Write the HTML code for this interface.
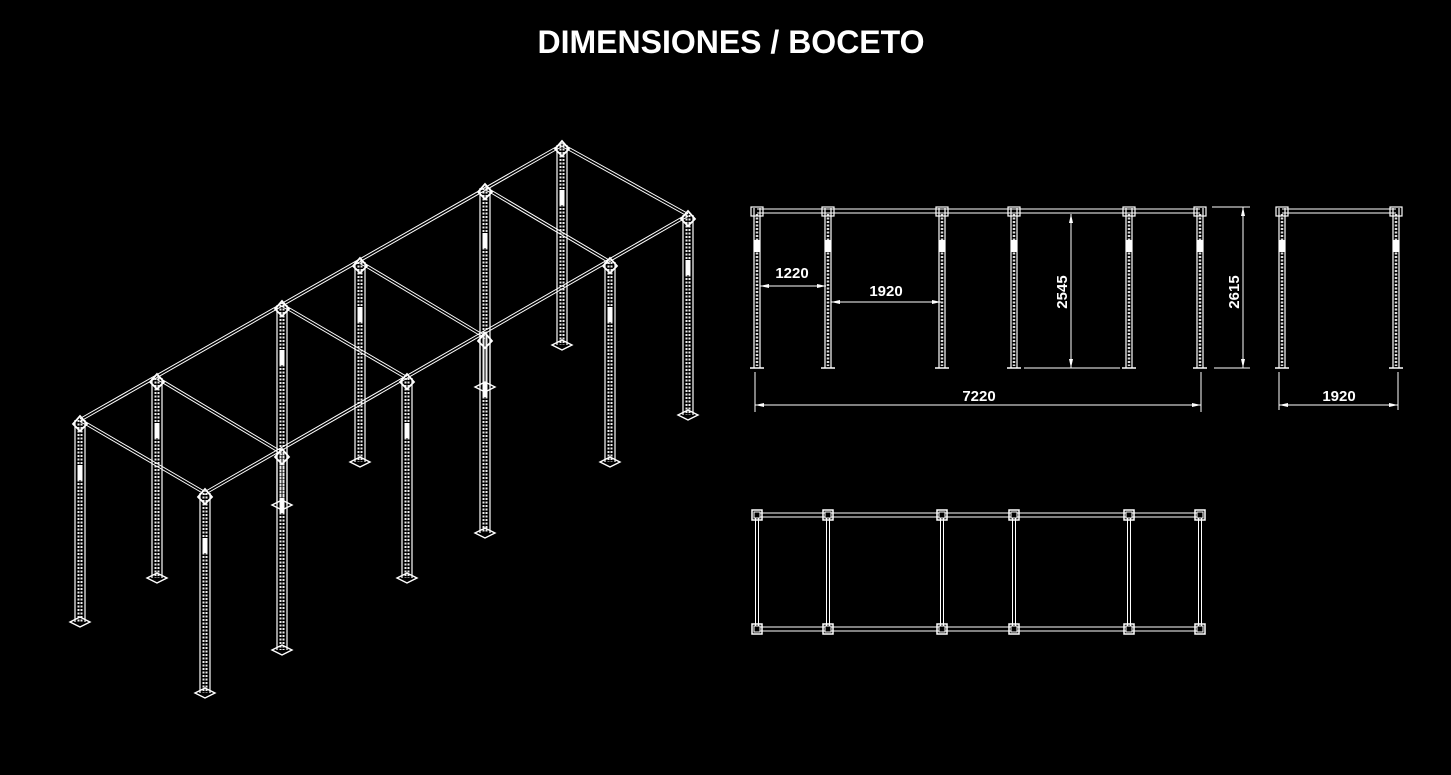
<!DOCTYPE html>
<html><head><meta charset="utf-8"><style>
html,body{margin:0;padding:0;background:#000;width:1451px;height:775px;overflow:hidden}
svg{display:block}
text{font-family:"Liberation Sans",sans-serif;fill:#fff;font-weight:bold}
</style></head><body>
<svg id="s" width="1451" height="775" viewBox="0 0 1451 775" xmlns="http://www.w3.org/2000/svg">
<rect width="1451" height="775" fill="#000"/>
<text x="731" y="53" text-anchor="middle" font-size="32">DIMENSIONES / BOCETO</text>
<g id="g" stroke="#fff" fill="none"></g>
<g font-size="15">
<text x="792" y="278" text-anchor="middle">1220</text>
<text x="886" y="296" text-anchor="middle">1920</text>
<text x="979" y="401" text-anchor="middle">7220</text>
<text x="1339" y="401" text-anchor="middle">1920</text>
<text transform="translate(1067,292) rotate(-90)" text-anchor="middle">2545</text>
<text transform="translate(1239,292) rotate(-90)" text-anchor="middle">2615</text>
</g>
</svg>
<script>
var g=document.getElementById('g'),o='';
function L(x1,y1,x2,y2,w,c,d){o+='<line x1="'+x1+'" y1="'+y1+'" x2="'+x2+'" y2="'+y2+'" stroke-width="'+(w||1)+'"'+(c?' stroke="'+c+'"':'')+(d?' stroke-dasharray="'+d+'"':'')+'/>';}
function beam(x1,y1,x2,y2){L(x1,y1-1.5,x2,y2-1.5,1);L(x1,y1+1.5,x2,y2+1.5,1);}
function post(x,t,b){L(x-5,t,x-5,b,1.2);L(x+5,t,x+5,b,1.2);L(x-1.5,t,x-1.5,b,2,'#eee','2 1.5');L(x+1.5,t,x+1.5,b,2,'#eee','2 1.5');
 o+='<path d="M'+(x-10)+' '+b+' L'+x+' '+(b-5)+' L'+(x+10)+' '+b+' L'+x+' '+(b+5)+'Z" stroke-width="1.4"/>';
 o+='<path d="M'+(x-7)+' '+(t+4)+' L'+x+' '+(t-4)+' L'+(x+7)+' '+(t+4)+' L'+x+' '+(t+11)+'Z" stroke-width="1.8"/>';
 L(x,t+45,x,t+60,5,'#fff');}
var A=[[80,420,622],[157,378,578],[282,305,505],[360,262,462],[485,188,387],[562,145,345]];
var B=[[205,493,693],[282,453,650],[407,378,578],[485,337,533],[610,262,462],[688,215,415]];
A.forEach(function(p){post(p[0],p[1],p[2]);});
beam(A[0][0],A[0][1],A[5][0],A[5][1]);
beam(B[0][0],B[0][1],B[5][0],B[5][1]);
for(var i=0;i<6;i++)beam(A[i][0],A[i][1],B[i][0],B[i][1]);
B.forEach(function(p){post(p[0],p[1],p[2]);});
var X=[757,828,942,1014,1129,1200];
L(757,209,1200,209,1);L(757,213,1200,213,1);
function epost(x){L(x-3,208,x-3,368,1.2);L(x+3,208,x+3,368,1.2);L(x,214,x,366,2.5,'#ddd','2 1.5');L(x-7,368,x+7,368,1.5);o+='<rect x="'+(x-6)+'" y="207" width="12" height="9" stroke-width="1.2"/>';L(x,240,x,252,5,'#fff');}
X.forEach(epost);
function arrowH(x1,x2,y){L(x1,y,x2,y,1);o+='<path d="M'+x1+' '+y+'l9 -2v4z M'+x2+' '+y+'l-9 -2v4z" fill="#fff" stroke="none"/>';}
function arrowV(x,y1,y2){L(x,y1,x,y2,1);o+='<path d="M'+x+' '+y1+'l-2 9h4z M'+x+' '+y2+'l-2 -9h4z" fill="#fff" stroke="none"/>';}
arrowH(760,826,286);arrowH(831,941,302);
arrowV(1071,214,368);L(1024,368,1120,368,1);
L(755,372,755,412);L(1201,372,1201,412);arrowH(755,1201,405);
L(1212,207,1250,207);L(1214,368,1250,368);arrowV(1243,207,368);
L(1282,209,1396,209);L(1282,213,1396,213);
[1282,1396].forEach(epost);
L(1279,372,1279,410);L(1398,372,1398,410);arrowH(1279,1398,405);
L(757,513,1200,513);L(757,517,1200,517);L(757,627,1200,627);L(757,631,1200,631);
X.forEach(function(x){L(x-1.5,515,x-1.5,629);L(x+1.5,515,x+1.5,629);
 [515,629].forEach(function(y){o+='<rect x="'+(x-5)+'" y="'+(y-5)+'" width="10" height="10" stroke-width="1.5"/><rect x="'+(x-3)+'" y="'+(y-3)+'" width="6" height="6" fill="#000" stroke-width="1"/>';});});
g.innerHTML=o;
</script>
</body></html>
